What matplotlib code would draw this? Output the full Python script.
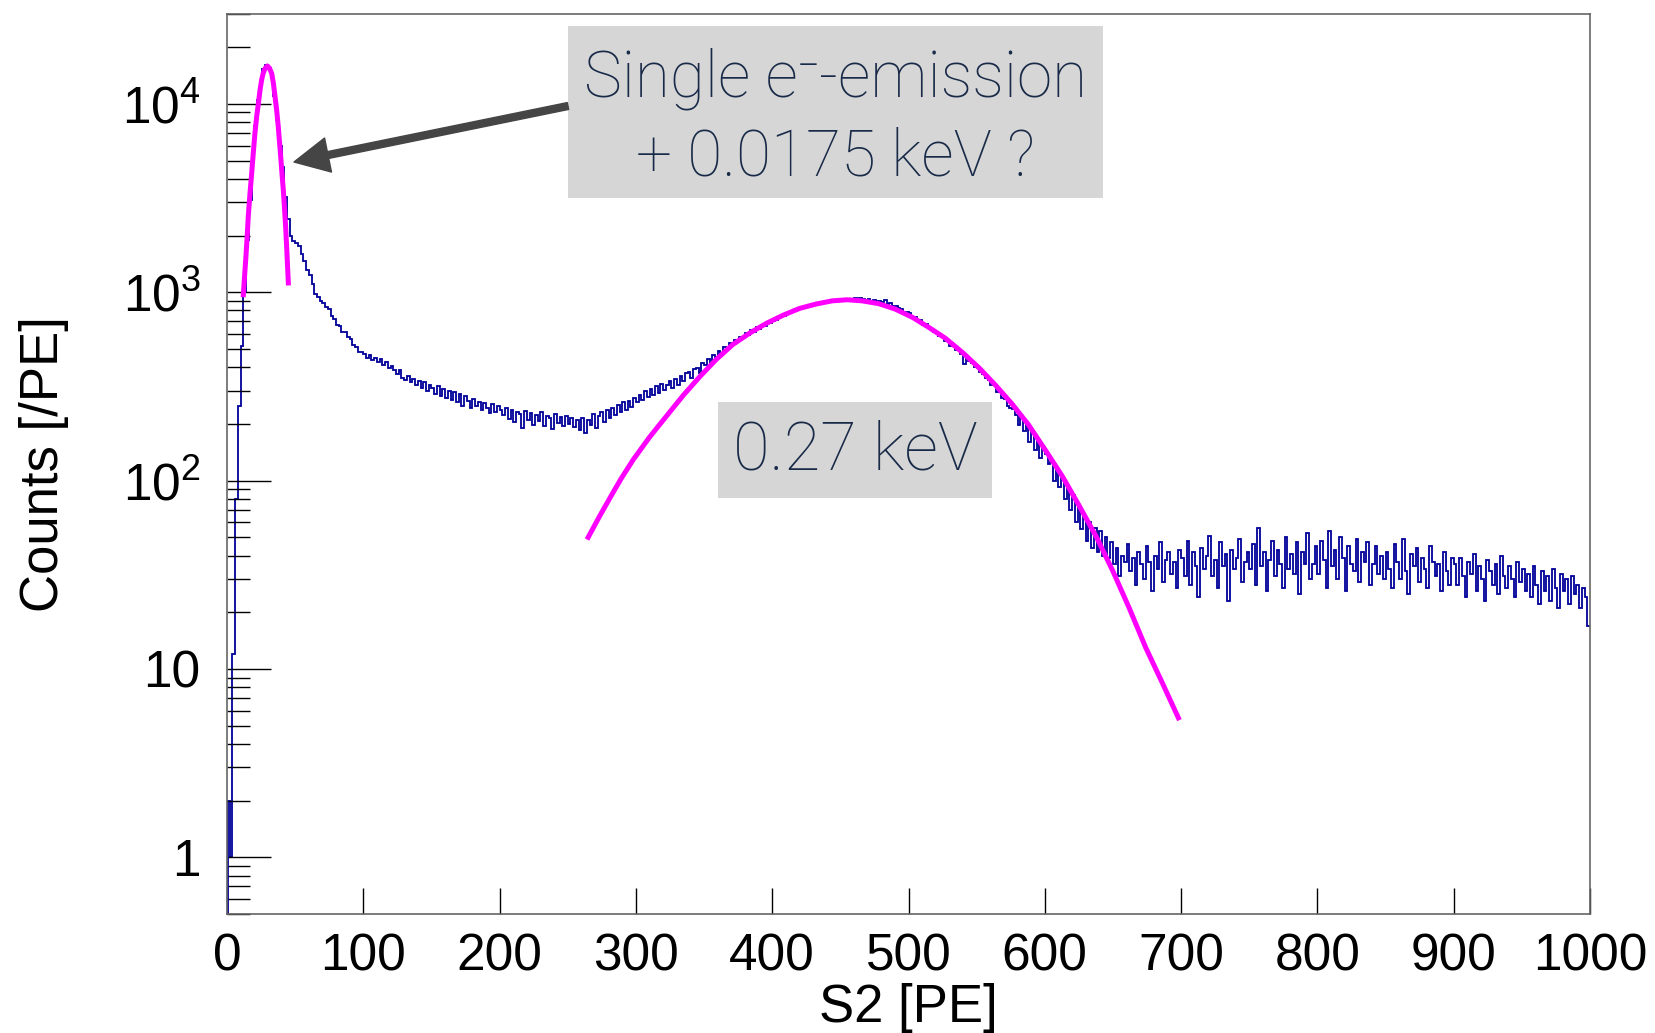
import numpy as np
import matplotlib
matplotlib.use("Agg")
import matplotlib.pyplot as plt
from matplotlib.patches import Rectangle, FancyArrowPatch
from matplotlib.ticker import FixedLocator, FuncFormatter, LogLocator, NullFormatter, NullLocator

# ---------------- data ----------------
# S2 spectrum, counts per PE in 2 PE wide bins from 0 to 1000 PE
bin_width = 2
counts = [
    # 0 - 50
    2, 1, 12, 80, 250, 520, 1000, 1900, 3100, 5000, 7600, 10500, 13200, 15300, 16000,
    15500, 13800, 11000, 8200, 6000, 4600, 3200, 2450, 2000, 1880,
    # 50 - 100
    1830, 1760, 1590, 1460, 1320, 1240, 1110, 980, 945, 895, 880, 830, 810, 745, 725,
    670, 665, 615, 612, 578, 566, 522, 512, 484, 480,
    # 100 - 150
    472, 450, 466, 436, 450, 424, 442, 412, 428, 398, 404, 386, 366, 386, 352,
    344, 360, 332, 348, 320, 338, 312, 332, 300, 322,
    # 150 - 200
    310, 288, 318, 282, 305, 276, 300, 268, 294, 262, 288, 250, 280, 265, 242,
    272, 248, 262, 236, 258, 244, 228, 255, 232, 248,
    # 200 - 250
    236, 222, 244, 212, 238, 205, 231, 226, 190, 234, 210, 229, 198, 224, 206,
    232, 196, 221, 214, 188, 226, 202, 218, 196, 220,
    # 250 - 300
    200, 215, 192, 210, 186, 214, 180, 209, 198, 226, 190, 221, 232, 204, 238,
    214, 244, 222, 252, 230, 260, 238, 266, 246, 276,
    # 300 - 350
    260, 285, 268, 300, 278, 306, 286, 318, 292, 326, 302, 322, 338, 310, 346,
    322, 360, 336, 372, 376, 352, 390, 398, 374, 420,
    # 350 - 400
    412, 440, 420, 465, 455, 490, 468, 512, 502, 536, 526, 558, 548, 582, 570,
    608, 594, 630, 618, 650, 640, 672, 660, 696, 686,
    # 400 - 450
    705, 716, 728, 745, 752, 770, 774, 790, 796, 805, 818, 822, 836, 840, 852,
    855, 866, 870, 878, 886, 884, 895, 900, 898, 908,
    # 450 - 500
    905, 918, 910, 922, 915, 928, 912, 930, 918, 905, 925, 900, 912, 895, 902,
    885, 910, 868, 880, 850, 845, 822, 815, 790, 785,
    # 500 - 550
    775, 742, 740, 705, 712, 672, 680, 650, 640, 618, 608, 586, 580, 552, 558,
    520, 526, 496, 494, 470, 418, 452, 430, 422, 400,
    # 550 - 600
    396, 378, 366, 350, 344, 322, 322, 296, 294, 276, 272, 250, 242, 240, 222,
    198, 218, 184, 202, 160, 182, 146, 164, 132, 150,
    # 600 - 650
    138, 122, 126, 100, 116, 92, 104, 80, 94, 70, 84, 60, 74, 55, 64,
    48, 60, 44, 56, 42, 54, 40, 50, 39, 47,
    # 650 - 700
    36, 44, 31, 40, 37, 46, 33, 39, 28, 42, 36, 30, 45, 37, 26,
    40, 34, 47, 29, 38, 42, 32, 37, 27, 43,
    # 700 - 750
    39, 31, 48, 28, 42, 35, 24, 44, 34, 40, 51, 31, 38, 27, 47,
    35, 41, 23, 43, 34, 39, 49, 29, 37, 42,
    # 750 - 800
    34, 46, 28, 56, 35, 42, 26, 38, 48, 31, 43, 36, 27, 50, 34,
    41, 32, 47, 25, 42, 36, 53, 30, 36, 45,
    # 800 - 850
    32, 48, 38, 27, 54, 35, 43, 30, 50, 39, 26, 45, 36, 33, 49,
    29, 42, 37, 47, 28, 36, 45, 32, 40, 30,
    # 850 - 900
    42, 34, 27, 46, 37, 30, 49, 33, 25, 41, 35, 44, 29, 39, 34,
    27, 45, 37, 31, 36, 26, 42, 33, 28, 39,
    # 900 - 950
    36, 28, 39, 31, 24, 37, 32, 41, 26, 35, 30, 23, 38, 33, 28,
    36, 25, 40, 31, 27, 35, 30, 24, 37, 29,
    # 950 - 1000
    34, 26, 32, 24, 35, 28, 22, 33, 26, 31, 23, 34, 27, 21, 32,
    26, 30, 22, 31, 25, 28, 21, 27, 24, 17,
]

# fitted single-electron peak
peak_fit_x = [12.0, 13.0, 13.9, 14.8, 15.6, 16.8, 18.1, 19.3, 20.5, 21.8, 23.0, 24.2,
              25.4, 26.6, 27.9, 29.6, 31.1, 32.8, 34.0, 35.2, 36.4, 37.6, 38.5, 39.4,
              40.3, 41.3, 42.1, 43.0, 44.0, 45.0]
peak_fit_y = [970, 1250, 1550, 1980, 2520, 3300, 4270, 5500, 7000, 8600, 10000, 11800,
              13400, 14600, 15400, 15900, 15500, 14500, 12900, 11000, 9300, 7600, 6300, 5250,
              4300, 3500, 2850, 2250, 1600, 1120]

# fitted 0.27 keV line
line_fit_x = [265, 273, 281, 289, 298, 310, 322, 335, 347, 359, 371, 384, 396, 408, 420,
              432, 444, 455, 466, 478, 490, 503, 515, 527, 540, 552, 564, 576, 588, 601,
              613, 625, 638, 650, 662, 674, 686, 698]
line_fit_y = [50, 64, 81, 102, 129, 170, 218, 285, 357, 440, 527, 610, 685, 755, 820,
              865, 900, 912, 900, 870, 815, 735, 650, 570, 476, 395, 320, 255, 198, 143,
              105, 74, 50, 33, 21, 13, 8.5, 5.5]

x_range = (0, 1000)
y_range = (0.5, 3.0e4)
x_ticks = [0, 100, 200, 300, 400, 500, 600, 700, 800, 900, 1000]
y_ticks = [1, 10, 100, 1000, 10000]

x_label = "S2 [PE]"
y_label = "Counts [/PE]"
note_peak = "Single e\u207b-emission\n+ 0.0175 keV ?"
note_line = "0.27 keV"

# ---------------- styling ----------------
plt.rcParams["mathtext.fontset"] = "custom"
plt.rcParams["mathtext.rm"] = "Liberation Sans"
plt.rcParams["mathtext.default"] = "rm"

W, H = 1655, 1033
fig = plt.figure(figsize=(W / 100, H / 100), dpi=100)
fig.patch.set_facecolor("white")

ax = fig.add_axes([227 / W, 1 - 914 / H, (1590 - 227) / W, (914 - 14) / H])

edges = np.arange(len(counts) + 1) * bin_width
hist_color = "#000099"
ax.stairs(counts, edges, baseline=None, color=hist_color, lw=1.3)
ax.vlines(edges[0], y_range[0], counts[0], color=hist_color, lw=2.0)

fit_color = "#ff00ff"
ax.plot(peak_fit_x, peak_fit_y, color=fit_color, lw=3.6)
ax.plot(line_fit_x, line_fit_y, color=fit_color, lw=3.6)

ax.set_yscale("log")
ax.set_xlim(*x_range)
ax.set_ylim(*y_range)

for s in ax.spines.values():
    s.set_color("#666666")
    s.set_linewidth(1.2)

ax.xaxis.set_major_locator(FixedLocator(x_ticks))
ax.xaxis.set_minor_locator(NullLocator())
ax.yaxis.set_major_locator(FixedLocator(y_ticks))
ax.yaxis.set_minor_locator(LogLocator(base=10, subs=np.arange(2, 10), numticks=30))
ax.yaxis.set_minor_formatter(NullFormatter())


def pow_label(v, pos):
    e = int(round(np.log10(v)))
    if e == 0:
        return "1"
    if e == 1:
        return "10"
    return r"$\mathrm{10^{%d}}$" % e


ax.yaxis.set_major_formatter(FuncFormatter(pow_label))

tick_font = "Liberation Sans"
ax.tick_params(axis="y", which="major", direction="in", length=31.7, width=1.0,
               left=True, right=False, labelsize=37, pad=19, labelfontfamily=tick_font,
               color="black")
ax.tick_params(axis="y", which="minor", direction="in", length=16.5, width=1.0,
               left=True, right=False, color="black")
ax.tick_params(axis="x", which="major", direction="in", length=18.7, width=1.0,
               bottom=True, top=False, labelsize=37, pad=13, labelfontfamily=tick_font,
               color="black")

ax.set_xlabel(x_label, fontsize=38, family="Liberation Sans")
ax.xaxis.set_label_coords(0.5, -(1008 - 914) / 900)
ax.xaxis.label.set_va("center")
ax.set_ylabel(y_label, fontsize=38, family="Liberation Sans")
ax.yaxis.set_label_coords(-(227 - 44) / 1363, (914 - 464) / 900)
ax.yaxis.label.set_va("center")

# ---------------- annotations ----------------
box_color = "#d6d6d6"
note_color = "#182a48"
note_font = ["Roboto", "DejaVu Sans"]

fig.add_artist(Rectangle((568 / W, 1 - 198 / H), 535 / W, 172 / H,
                         transform=fig.transFigure, facecolor=box_color,
                         edgecolor="none", zorder=5))
fig.text(835.5 / W, 1 - 118 / H, note_peak, ha="center", va="center",
         fontsize=46, color=note_color, family=note_font, fontweight="light",
         linespacing=1.34, zorder=6)

fig.add_artist(Rectangle((718 / W, 1 - 498 / H), 274 / W, 96 / H,
                         transform=fig.transFigure, facecolor=box_color,
                         edgecolor="none", zorder=5))
fig.text(855 / W, 1 - 452 / H, note_line, ha="center", va="center",
         fontsize=48, color=note_color, family=note_font, fontweight="light",
         zorder=6)

arrow = FancyArrowPatch((568 / W, 1 - 106 / H), (294 / W, 1 - 162 / H),
                        transform=fig.transFigure,
                        arrowstyle="simple,head_length=25,head_width=25,tail_width=5",
                        mutation_scale=1, color="#454545", shrinkA=0, shrinkB=0,
                        zorder=5)
fig.add_artist(arrow)

fig.savefig("out.png", dpi=100)
